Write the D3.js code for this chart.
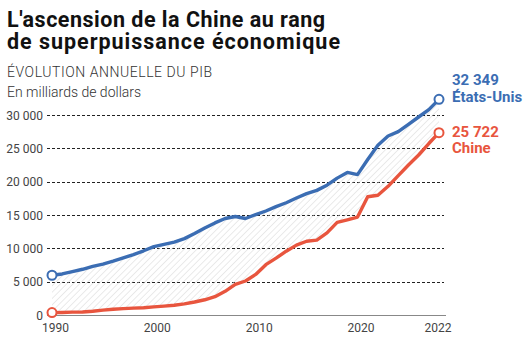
<!DOCTYPE html>
<html><head><meta charset="utf-8">
<script src="https://cdn.jsdelivr.net/npm/d3@7"></script>
<style>
body{margin:0;background:#fff;font-family:Roboto,sans-serif;}
</style></head><body>
<svg id="c" width="531" height="344"></svg>
<script>
const years = d3.range(1990, 2029);
const usa = [5963,6158,6520,6859,7287,7640,8073,8578,9063,9631,10251,10582,10929,11457,12217,13039,13816,14474,14770,14478,15049,15600,16254,16843,17551,18206,18695,19477,20533,21381,21060,23315,25463,26850,27500,28600,29700,30800,32349];
const china = [361,383,427,445,564,734,864,962,1029,1094,1211,1339,1471,1660,1955,2286,2752,3550,4594,5101,6087,7552,8532,9570,10476,11062,11233,12310,13895,14280,14688,17734,17963,19300,20900,22500,24000,25722,27350];
const endLabels = ["32 349","25 722"];
const yTicks = [0,5000,10000,15000,20000,25000,30000];
const xTickYears = [1990,2000,2010,2020,2028];
const xTickLabels = ["1990","2000","2010","2020","2022"];
const titleLines = ["L'ascension de la Chine au rang","de superpuissance économique"];
const subtitle = "ÉVOLUTION ANNUELLE DU PIB";
const unitNote = "En milliards de dollars";
const seriesNames = ["États-Unis","Chine"];
const colors = ["#3b6db3","#e8553e"];

const svg = d3.select("#c");
const x = d3.scaleLinear().domain([1990,2028]).range([52,439]);
const y = d3.scaleLinear().domain([0,30000]).range([315,115]);
const fmt = v => d3.format(",")(v).replace(/,/g," ");

// title
const titleW = [318, 333];
svg.append("g").selectAll("text").data(titleLines).join("text")
  .attr("x",7).attr("y",(d,i)=>27+i*21.5)
  .attr("font-size",21.5).attr("font-weight",700)
  .attr("textLength",(d,i)=>titleW[i]).attr("lengthAdjust","spacing")
  .attr("fill","#111").text(d=>d);
svg.append("text").attr("x",7).attr("y",77).attr("font-size",14).attr("font-weight",300)
  .attr("letter-spacing",0.55).attr("fill","#333").text(subtitle);
svg.append("text").attr("x",7).attr("y",96.5).attr("font-size",14).attr("font-weight",300)
  .attr("fill","#333").text(unitNote);

// hatch pattern
const defs = svg.append("defs");
const pat = defs.append("pattern").attr("id","hatch").attr("patternUnits","userSpaceOnUse")
  .attr("width",4.5).attr("height",4.5).attr("patternTransform","rotate(45)");
pat.append("line").attr("x1",0).attr("y1",0).attr("x2",0).attr("y2",4.5)
  .attr("stroke","#d6d6d6").attr("stroke-width",1);

// grid
const grid = svg.append("g");
grid.selectAll("line").data(yTicks.filter(d=>d>0)).join("line")
  .attr("x1",47).attr("x2",444).attr("y1",d=>Math.round(y(d))+0.5).attr("y2",d=>Math.round(y(d))+0.5)
  .attr("stroke","#222").attr("stroke-width",1).attr("stroke-dasharray","3,2");
svg.append("line").attr("x1",47).attr("x2",446).attr("y1",y(0)+0.5).attr("y2",y(0)+0.5)
  .attr("stroke","#888").attr("stroke-width",1);

// y labels
svg.append("g").selectAll("text").data(yTicks).join("text")
  .attr("x",43).attr("y",d=>y(d)+4.5).attr("text-anchor","end")
  .attr("font-size",12).attr("fill","#444").text(d=>fmt(d));

// x labels
svg.append("g").selectAll("text").data(xTickYears).join("text")
  .attr("x",(d,i)=>x(d)+(i<4?3.5:-1)).attr("y",332).attr("text-anchor","middle")
  .attr("font-size",12).attr("fill","#444").text((d,i)=>xTickLabels[i]);

// area between
const data = years.map((yr,i)=>({yr,u:usa[i],c:china[i]}));
const area = d3.area().x(d=>x(d.yr)).y0(d=>y(d.c)).y1(d=>y(d.u));
svg.append("path").datum(data).attr("d",area).attr("fill","url(#hatch)");

// lines
const valueDy = [-14.5, 4];
const nameDy = [2.5, 20.5];
[usa,china].forEach((s,k)=>{
  const line = d3.line().x((d,i)=>x(years[i])).y(d=>y(d));
  svg.append("path").datum(s).attr("d",line).attr("fill","none")
    .attr("stroke",colors[k]).attr("stroke-width",3.4).attr("stroke-linejoin","round");
  [0,s.length-1].forEach(i=>{
    svg.append("circle").attr("cx",x(years[i])).attr("cy",y(s[i])).attr("r",4.5)
      .attr("fill","#fff").attr("stroke",colors[k]).attr("stroke-width",2);
  });
  const cy = y(s[s.length-1]);
  svg.append("text").attr("x",452).attr("y",cy+valueDy[k]).attr("font-size",15).attr("font-weight",700)
    .attr("fill",colors[k]).text(endLabels[k]);
  svg.append("text").attr("x",452).attr("y",cy+nameDy[k]).attr("font-size",15).attr("font-weight",700)
    .attr("fill",colors[k]).text(seriesNames[k]);
});
</script>
</body></html>
